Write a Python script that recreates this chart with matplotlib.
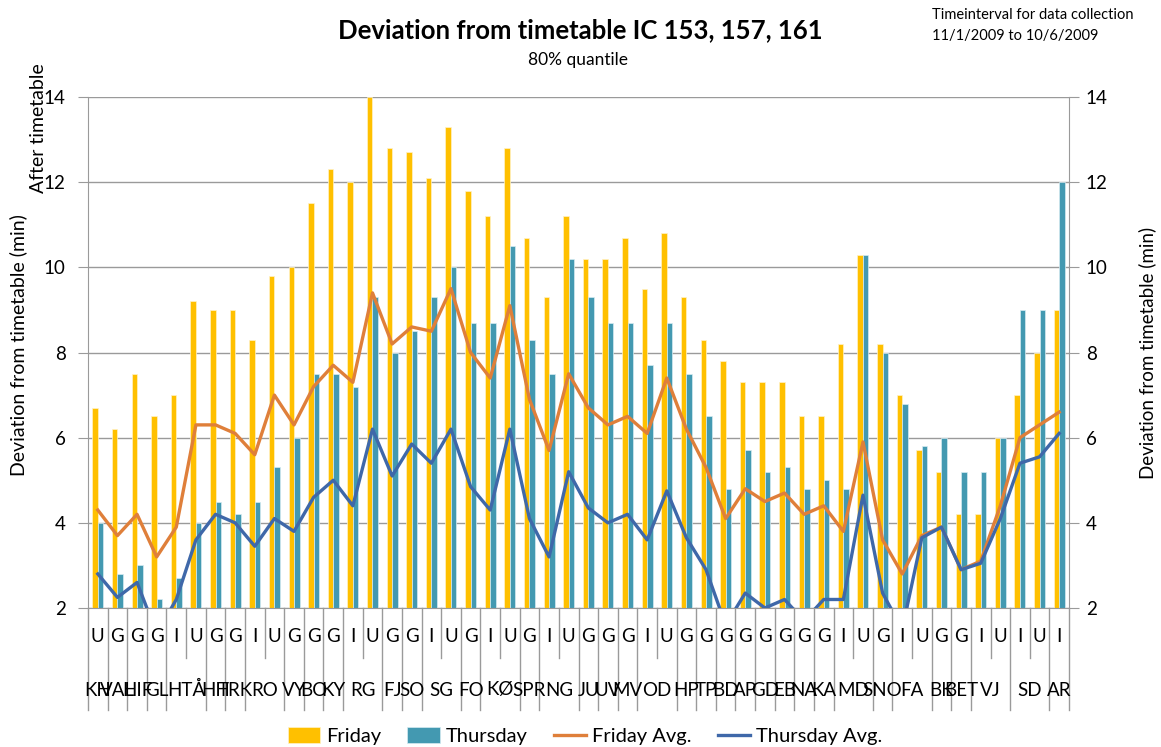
import matplotlib
matplotlib.use("Agg")
import matplotlib.pyplot as plt
from matplotlib.transforms import blended_transform_factory
import numpy as np

plt.rcParams['font.family'] = ['Lato', 'DejaVu Sans']

# upper tier of the category axis (train type per stop)
stop_type = ['U', 'G', 'G', 'G', 'I', 'U', 'G', 'G', 'I', 'U',
             'G', 'G', 'G', 'I', 'U', 'G', 'G', 'I', 'U', 'G',
             'I', 'U', 'G', 'I', 'U', 'G', 'G', 'G', 'I', 'U',
             'G', 'G', 'G', 'G', 'G', 'G', 'G', 'G', 'I', 'U',
             'G', 'I', 'U', 'G', 'G', 'I', 'U', 'I', 'U', 'I']
# lower tier: station names and how many categories each covers
stations = ['KH', 'VAL', 'HIF', 'GL', 'HTÅ', 'HH', 'TRK', 'RO', 'VY', 'BO',
            'KY', 'RG', 'FJ', 'SO', 'SG', 'FO', 'KØ', 'SPR', 'NG', 'JU',
            'UV', 'MV', 'OD', 'HP', 'TP', 'BD', 'AP', 'GD', 'EB', 'NA',
            'KA', 'MD', 'SNO', 'FA', 'BK', 'BET', 'VJ', 'SD', 'AR']
station_span = [1, 1, 1, 1, 2, 1, 1, 2, 1, 1,
                1, 2, 1, 1, 2, 1, 2, 1, 2, 1,
                1, 1, 2, 1, 1, 1, 1, 1, 1, 1,
                1, 2, 1, 2, 1, 1, 2, 2, 1]

friday = [6.7, 6.2, 7.5, 6.5, 7.0, 9.2, 9.0, 9.0, 8.3, 9.8,
          10.0, 11.5, 12.3, 12.0, 14.0, 12.8, 12.7, 12.1, 13.3, 11.8,
          11.2, 12.8, 10.7, 9.3, 11.2, 10.2, 10.2, 10.7, 9.5, 10.8,
          9.3, 8.3, 7.8, 7.3, 7.3, 7.3, 6.5, 6.5, 8.2, 10.3,
          8.2, 7.0, 5.7, 5.2, 4.2, 4.2, 6.0, 7.0, 8.0, 9.0]
thursday = [4.0, 2.8, 3.0, 2.2, 2.7, 4.0, 4.5, 4.2, 4.5, 5.3,
            6.0, 7.5, 7.5, 7.2, 9.3, 8.0, 8.5, 9.3, 10.0, 8.7,
            8.7, 10.5, 8.3, 7.5, 10.2, 9.3, 8.7, 8.7, 7.7, 8.7,
            7.5, 6.5, 4.8, 5.7, 5.2, 5.3, 4.8, 5.0, 4.8, 10.3,
            8.0, 6.8, 5.8, 6.0, 5.2, 5.2, 6.0, 9.0, 9.0, 12.0]
friday_avg = [4.3, 3.7, 4.2, 3.2, 3.9, 6.3, 6.3, 6.1, 5.6, 7.0,
              6.3, 7.2, 7.7, 7.3, 9.4, 8.2, 8.6, 8.5, 9.5, 8.0,
              7.4, 9.1, 6.9, 5.7, 7.5, 6.7, 6.3, 6.5, 6.1, 7.4,
              6.2, 5.3, 4.1, 4.8, 4.5, 4.7, 4.2, 4.4, 3.8, 5.9,
              3.6, 2.8, 3.7, 3.9, 2.9, 3.1, 4.4, 6.0, 6.3, 6.6]
thursday_avg = [2.8, 2.25, 2.6, 1.4, 2.2, 3.6, 4.2, 4.0, 3.45, 4.1,
                3.8, 4.6, 5.0, 4.4, 6.2, 5.1, 5.85, 5.4, 6.2, 4.85,
                4.3, 6.2, 4.1, 3.2, 5.2, 4.35, 4.0, 4.2, 3.6, 4.75,
                3.65, 2.9, 1.6, 2.35, 2.0, 2.2, 1.7, 2.2, 2.2, 4.65,
                2.35, 1.5, 3.65, 3.9, 2.9, 3.05, 4.1, 5.4, 5.55, 6.1]

yticks = [2, 4, 6, 8, 10, 12, 14]

W, H = 1161, 747
fig = plt.figure(figsize=(W / 100, H / 100), dpi=100)
L, R, T, B = 88, 1069, 97, 608
ax = fig.add_axes([L / W, 1 - B / H, (R - L) / W, (B - T) / H])

x = np.arange(len(friday))
gray = '#9a9a9a'
bw = 0.28
b1 = ax.bar(x - bw / 2, friday, bw, color='#FFC000', edgecolor='#fff2c8', linewidth=0.5,
            label='Friday', zorder=2)
b2 = ax.bar(x + bw / 2, thursday, bw, color='#4399B1', edgecolor='#d6ecf2', linewidth=0.5,
            label='Thursday', zorder=2)
l1, = ax.plot(x, friday_avg, color='#DF7F3A', lw=2.4, label='Friday Avg.', zorder=3)
l2, = ax.plot(x, thursday_avg, color='#3F68A9', lw=2.4, label='Thursday Avg.', zorder=3)

ax.set_xlim(-0.5, len(friday) - 0.5)
ax.set_ylim(2, 14)
ax.set_yticks(yticks)
ax.yaxis.grid(True, color=gray, lw=1)
ax.set_axisbelow(True)
ax.set_xticks([])
ax.spines['top'].set_visible(False)
for s in ['left', 'bottom', 'right']:
    ax.spines[s].set_color(gray)
ax.tick_params(axis='y', direction='out', length=7, color=gray, labelsize=13.5, pad=9)

ax2 = ax.twinx()
ax2.set_ylim(2, 14)
ax2.set_yticks(yticks)
ax2.tick_params(axis='y', direction='out', length=7, color=gray, labelsize=13.5, pad=5)
for s in ax2.spines.values():
    s.set_visible(False)
ax2.set_ylabel('Deviation from timetable (min)', fontsize=13.5, labelpad=22)

# two-tier category axis
tr = blended_transform_factory(ax.transData, ax.transAxes)
py = lambda p: (B - p) / (B - T)
for i, t in enumerate(stop_type):
    ax.text(i, py(636), t, transform=tr, ha='center', va='center', fontsize=13.5)
edges = np.concatenate([[0], np.cumsum(station_span)])
for i, name in enumerate(stations):
    c = (edges[i] + edges[i + 1]) / 2 - 0.5
    ax.text(c, py(690), name, transform=tr, ha='center', va='center', fontsize=13.5)
long_edges = set(edges.tolist())
for e in range(len(friday) + 1):
    yend = py(710) if e in long_edges else py(658)
    ax.plot([e - 0.5, e - 0.5], [0, yend], transform=tr, color=gray, lw=1,
            clip_on=False)

fig.text(18 / W, 1 - 345 / H, 'Deviation from timetable (min)', rotation=90,
         ha='center', va='center', fontsize=14)
fig.text(38 / W, 1 - 128 / H, 'After timetable', rotation=90,
         ha='center', va='center', fontsize=14)

fig.text(580 / W, 1 - 30 / H, 'Deviation from timetable IC 153, 157, 161',
         ha='center', va='center', fontsize=18.5, fontweight='bold')
fig.text(578 / W, 1 - 60 / H, '80% quantile', ha='center', va='center', fontsize=12.5)
fig.text(932 / W, 1 - 15 / H, 'Timeinterval for data collection',
         ha='left', va='center', fontsize=10.5)
fig.text(932 / W, 1 - 36 / H, '11/1/2009 to 10/6/2009',
         ha='left', va='center', fontsize=10.5)

fig.legend([b1, b2, l1, l2], ['Friday', 'Thursday', 'Friday Avg.', 'Thursday Avg.'],
           loc='center', bbox_to_anchor=(585 / W, 1 - 736 / H), ncol=4,
           frameon=False, fontsize=14.5, handlelength=1.6, handleheight=0.8,
           columnspacing=1.3, handletextpad=0.3)

fig.savefig('out.png', dpi=100)
